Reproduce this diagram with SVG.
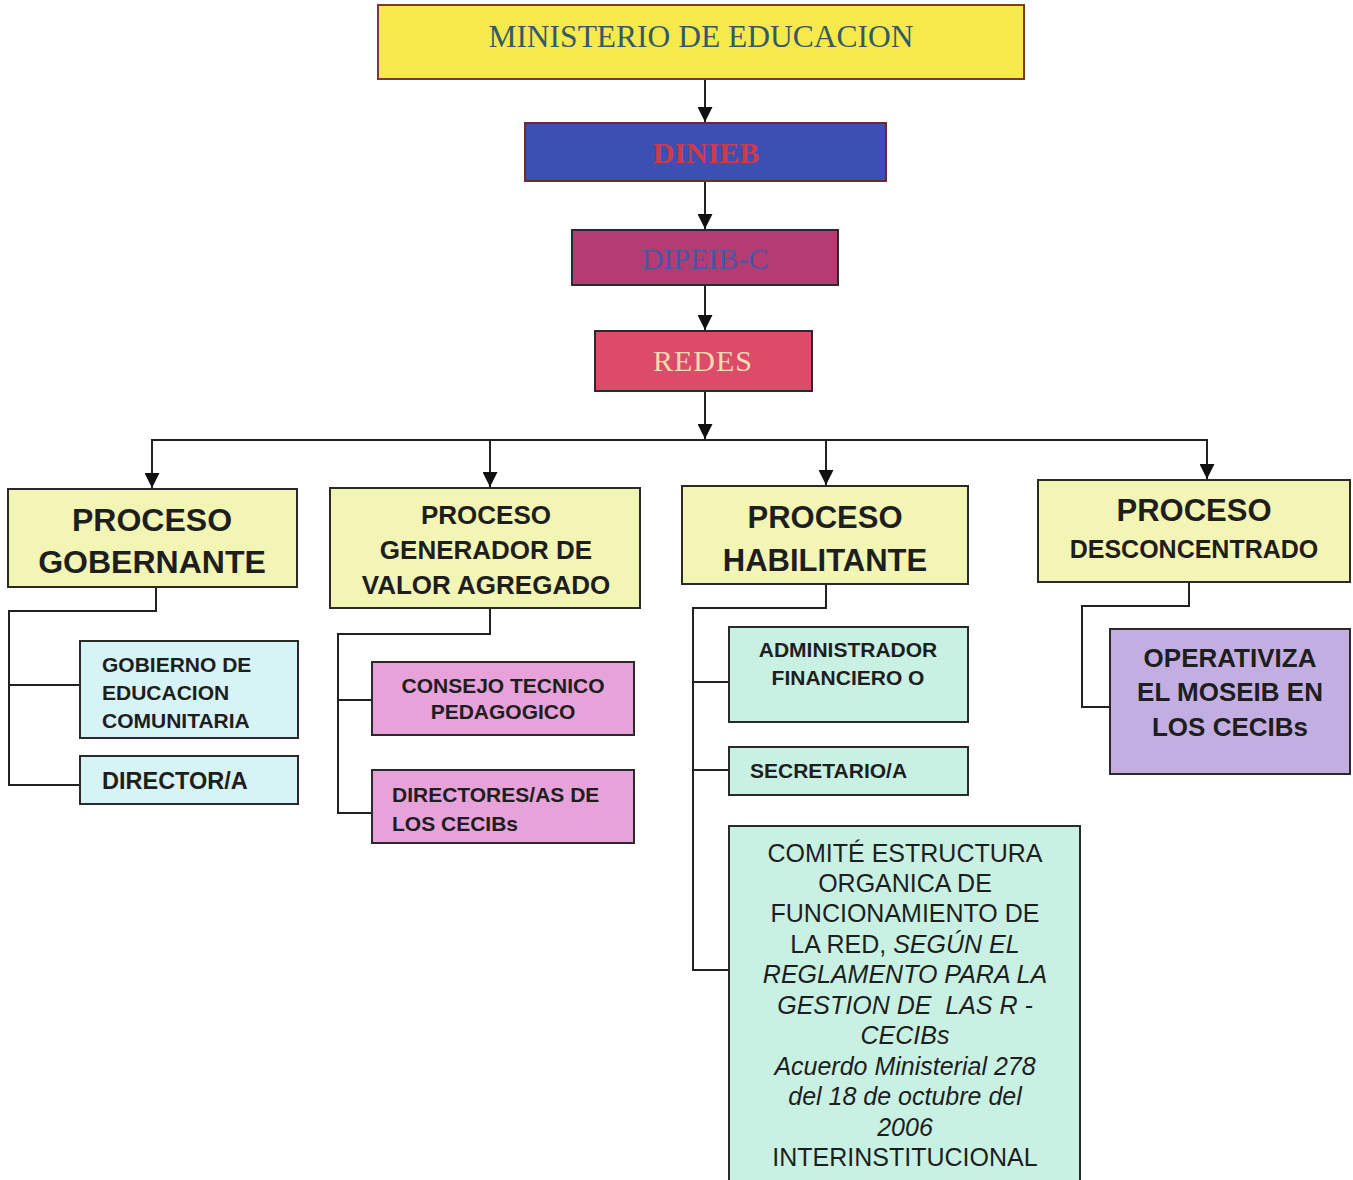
<svg xmlns="http://www.w3.org/2000/svg" width="1353" height="1180" viewBox="0 0 1353 1180">
<style>
.b{stroke:#2a2a2a;stroke-width:2}
.c{fill:none;stroke:#222;stroke-width:2}
.s{font-family:"Liberation Serif",serif}
.a{font-family:"Liberation Sans",Arial,sans-serif;fill:#1e1e1e;font-weight:bold}
.r{font-family:"Liberation Sans",Arial,sans-serif;fill:#1e1e1e}
.m{text-anchor:middle}
.i{font-style:italic}
</style>
<defs>
<marker id="ah" viewBox="0 0 10 10" refX="10" refY="5" markerWidth="15" markerHeight="15" markerUnits="userSpaceOnUse" orient="auto">
<path d="M0,0 L10,5 L0,10 z" fill="#111"/>
</marker>
</defs>
<rect width="1353" height="1180" fill="#fff"/>
<g id="connectors">
<line class="c" x1="705" y1="79" x2="705" y2="122" marker-end="url(#ah)"/>
<line class="c" x1="705" y1="181" x2="705" y2="229" marker-end="url(#ah)"/>
<line class="c" x1="705" y1="285" x2="705" y2="330" marker-end="url(#ah)"/>
<line class="c" x1="705" y1="391" x2="705" y2="439" marker-end="url(#ah)"/>
<polyline class="c" points="152,488 152,440 1207,440 1207,479"/>
<line class="c" x1="152" y1="440" x2="152" y2="488" marker-end="url(#ah)"/>
<line class="c" x1="490" y1="440" x2="490" y2="487" marker-end="url(#ah)"/>
<line class="c" x1="826" y1="440" x2="826" y2="485" marker-end="url(#ah)"/>
<line class="c" x1="1207" y1="440" x2="1207" y2="479" marker-end="url(#ah)"/>
<polyline class="c" points="156,587 156,611 9,611 9,785 80,785"/>
<line class="c" x1="9" y1="685" x2="80" y2="685"/>
<polyline class="c" points="490,608 490,634 338,634 338,813 372,813"/>
<line class="c" x1="338" y1="700" x2="372" y2="700"/>
<polyline class="c" points="826,584 826,608 693,608 693,970 729,970"/>
<line class="c" x1="693" y1="682" x2="729" y2="682"/>
<line class="c" x1="693" y1="770" x2="729" y2="770"/>
<polyline class="c" points="1189,582 1189,606 1082,606 1082,707 1110,707"/>
</g>
<g id="ministerio">
<rect x="378" y="5" width="646" height="74" fill="#f5e94c" stroke="#7a3a30" stroke-width="2"/>
<text class="s m" x="701" y="47" font-size="31.5" fill="#355a66">MINISTERIO DE EDUCACION</text>
</g>
<g id="dinieb">
<rect x="525" y="123" width="361" height="58" fill="#3b50b2" stroke="#6a2a30" stroke-width="2"/>
<text class="s m" x="706" y="163" font-size="30" font-weight="bold" fill="#cc3a4c">DINIEB</text>
</g>
<g id="dipeib">
<rect x="572" y="230" width="266" height="55" fill="#b43c72" class="b"/>
<text class="s m" x="705" y="269" font-size="30" fill="#4657a8">DIPEIB-C</text>
</g>
<g id="redes">
<rect x="595" y="331" width="217" height="60" fill="#dc4c6a" class="b"/>
<text class="s m" x="703" y="371" font-size="30" fill="#f4dcb0" letter-spacing="1">REDES</text>
</g>
<g id="gobernante">
<rect x="8" y="489" width="289" height="98" fill="#f2f5b4" class="b"/>
<text class="a m" x="152" y="531" font-size="32">PROCESO</text>
<text class="a m" x="152" y="573" font-size="32">GOBERNANTE</text>
</g>
<g id="generador">
<rect x="330" y="488" width="310" height="120" fill="#f2f5b4" class="b"/>
<text class="a m" x="486" y="524" font-size="26">PROCESO</text>
<text class="a m" x="486" y="559" font-size="26">GENERADOR DE</text>
<text class="a m" x="486" y="594" font-size="26">VALOR AGREGADO</text>
</g>
<g id="habilitante">
<rect x="682" y="486" width="286" height="98" fill="#f2f5b4" class="b"/>
<text class="a m" x="825" y="528" font-size="31">PROCESO</text>
<text class="a m" x="825" y="571" font-size="31">HABILITANTE</text>
</g>
<g id="desconcentrado">
<rect x="1038" y="480" width="312" height="102" fill="#f2f5b4" class="b"/>
<text class="a m" x="1194" y="521" font-size="31">PROCESO</text>
<text class="a m" x="1194" y="558" font-size="25">DESCONCENTRADO</text>
</g>
<g id="gobierno">
<rect x="80" y="641" width="218" height="97" fill="#d6f3f5" class="b"/>
<text class="a" x="102" y="672" font-size="21">GOBIERNO DE</text>
<text class="a" x="102" y="700" font-size="21">EDUCACION</text>
<text class="a" x="102" y="728" font-size="21">COMUNITARIA</text>
</g>
<g id="director">
<rect x="80" y="756" width="218" height="48" fill="#d6f3f5" class="b"/>
<text class="a" x="102" y="789" font-size="23.5">DIRECTOR/A</text>
</g>
<g id="consejo">
<rect x="372" y="662" width="262" height="73" fill="#e6a2d9" class="b"/>
<text class="a m" x="503" y="693" font-size="21">CONSEJO TECNICO</text>
<text class="a m" x="503" y="719" font-size="21">PEDAGOGICO</text>
</g>
<g id="directores">
<rect x="372" y="770" width="262" height="73" fill="#e6a2d9" class="b"/>
<text class="a" x="392" y="802" font-size="21">DIRECTORES/AS DE</text>
<text class="a" x="392" y="831" font-size="21">LOS CECIBs</text>
</g>
<g id="administrador">
<rect x="729" y="627" width="239" height="95" fill="#c8f1e3" class="b"/>
<text class="a m" x="848" y="657" font-size="21">ADMINISTRADOR</text>
<text class="a m" x="848" y="685" font-size="21">FINANCIERO O</text>
</g>
<g id="secretario">
<rect x="729" y="747" width="239" height="48" fill="#c8f1e3" class="b"/>
<text class="a" x="750" y="778" font-size="21">SECRETARIO/A</text>
</g>
<g id="comite">
<rect x="729" y="826" width="351" height="358" fill="#c8f1e3" class="b"/>
<g class="r m" font-size="25">
<text x="905" y="862">COMITÉ ESTRUCTURA</text>
<text x="905" y="892">ORGANICA DE</text>
<text x="905" y="922">FUNCIONAMIENTO DE</text>
<text x="905" y="953">LA RED, <tspan class="i">SEGÚN EL</tspan></text>
<text class="i" x="905" y="983">REGLAMENTO PARA LA</text>
<text class="i" x="905" y="1014" xml:space="preserve">GESTION DE  LAS R -</text>
<text class="i" x="905" y="1044">CECIBs</text>
<text class="i" x="905" y="1075">Acuerdo Ministerial 278</text>
<text class="i" x="905" y="1105">del 18 de octubre del</text>
<text class="i" x="905" y="1136">2006</text>
<text x="905" y="1166">INTERINSTITUCIONAL</text>
</g>
</g>
<g id="operativiza">
<rect x="1110" y="629" width="240" height="145" fill="#c2aee0" class="b"/>
<text class="a m" x="1230" y="667" font-size="26">OPERATIVIZA</text>
<text class="a m" x="1230" y="701" font-size="26">EL MOSEIB EN</text>
<text class="a m" x="1230" y="736" font-size="26">LOS CECIBs</text>
</g>
</svg>
